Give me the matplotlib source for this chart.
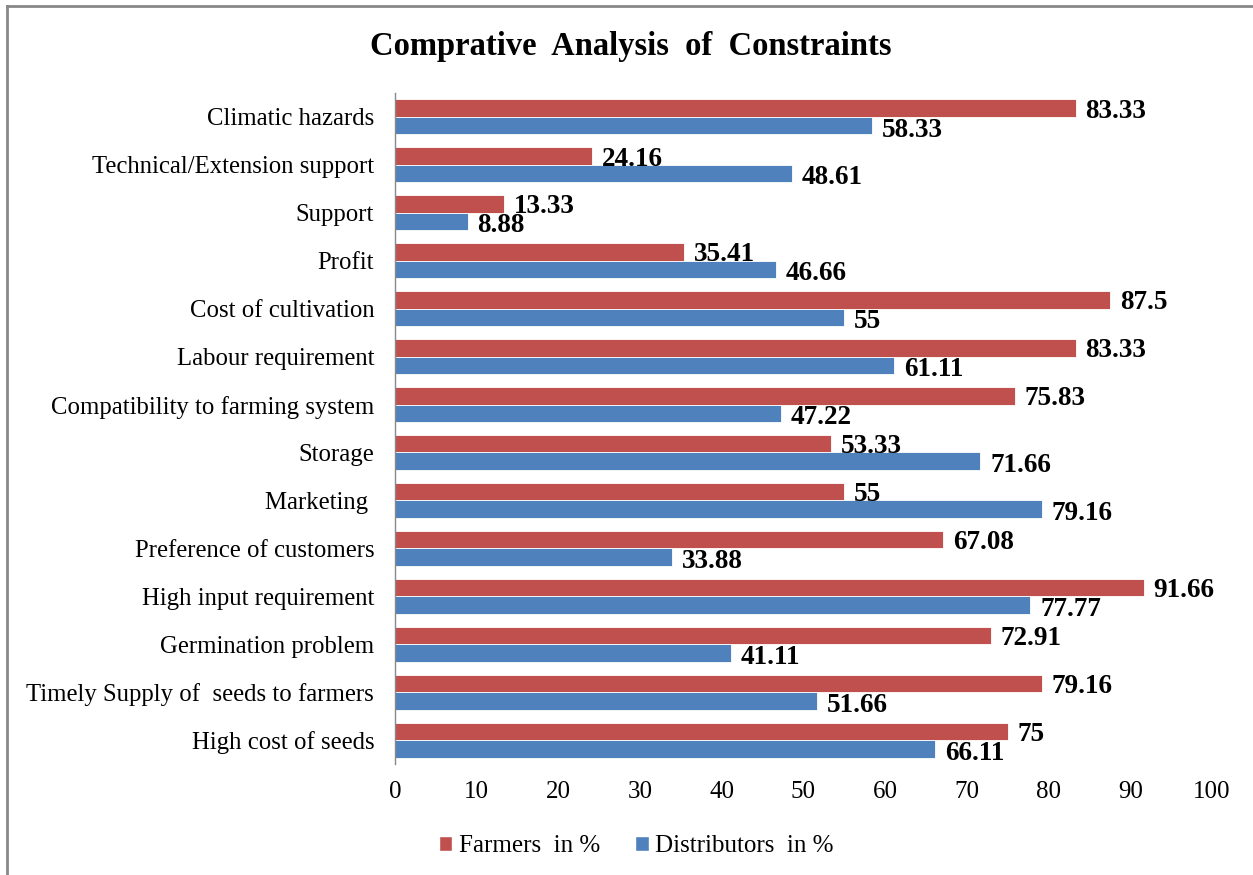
import numpy as np
import matplotlib
matplotlib.use('Agg')
import matplotlib.pyplot as plt
from matplotlib.lines import Line2D
from matplotlib.patches import Patch

categories = [
    'Climatic hazards',
    'Technical/Extension support',
    'Support',
    'Profit',
    'Cost of cultivation',
    'Labour requirement',
    'Compatibility to farming system',
    'Storage',
    'Marketing ',
    'Preference of customers',
    'High input requirement',
    'Germination problem',
    'Timely Supply of  seeds to farmers',
    'High cost of seeds',
]
farmers = [83.33, 24.16, 13.33, 35.41, 87.5, 83.33, 75.83, 53.33, 55,
           67.08, 91.66, 72.91, 79.16, 75]
distributors = [58.33, 48.61, 8.88, 46.66, 55, 61.11, 47.22, 71.66, 79.16,
                33.88, 77.77, 41.11, 51.66, 66.11]
xticks = list(range(0, 101, 10))

RED = '#C0504D'
BLUE = '#4F81BD'

plt.rcParams['font.family'] = ['Liberation Serif', 'DejaVu Serif']


def fmt(v):
    return ('%g' % v)


def main():
    fig = plt.figure(figsize=(12.53, 8.75), dpi=100)
    W, H = 1253, 875
    # axes placed in pixel terms: x 395..1212, y 93..764
    ax = fig.add_axes([395 / W, 1 - 764 / H, (1212 - 395) / W, (764 - 93) / H])

    n = len(categories)
    y = np.arange(n)
    h = 0.365
    ax.barh(y - h / 2, farmers, height=h, color=RED, edgecolor='white',
            linewidth=0.6)
    ax.barh(y + h / 2, distributors, height=h, color=BLUE, edgecolor='white',
            linewidth=0.6)

    for i in range(n):
        ax.text(farmers[i] + 1.2, y[i] - h / 2 + 0.06, fmt(farmers[i]),
                va='center', ha='left', fontsize=19.5, fontweight='bold')
        ax.text(distributors[i] + 1.2, y[i] + h / 2 + 0.09, fmt(distributors[i]),
                va='center', ha='left', fontsize=19.5, fontweight='bold')

    ax.set_ylim(n - 0.5, -0.5)
    ax.set_xlim(0, 100)
    ax.set_yticks(y)
    ax.set_yticklabels(categories, fontsize=17.8)
    ax.set_xticks(xticks)
    ax.set_xticklabels([str(t) for t in xticks], fontsize=18)
    ax.tick_params(axis='both', length=0)
    ax.tick_params(axis='y', pad=15)
    ax.tick_params(axis='x', pad=12)
    for s in ['top', 'right', 'bottom']:
        ax.spines[s].set_visible(False)
    ax.spines['left'].set_color('#888888')
    ax.spines['left'].set_linewidth(1.0)

    fig.text(631 / W, 1 - 46 / H, 'Comprative  Analysis  of  Constraints',
             ha='center', va='center', fontsize=23.5, fontweight='bold')

    handles = [Patch(facecolor=RED, edgecolor='white'),
               Patch(facecolor=BLUE, edgecolor='white')]
    fig.legend(handles, ['Farmers  in %', 'Distributors  in %'],
               loc='center', bbox_to_anchor=(636 / W, 1 - 846 / H),
               ncol=2, frameon=False, fontsize=18, handlelength=0.55,
               handleheight=0.55, handletextpad=0.25, columnspacing=1.4)

    # outer frame (left and top edges)
    fig.add_artist(Line2D([7 / W, 7 / W], [0, 1 - 6 / H], color='#888888',
                          linewidth=2.0, transform=fig.transFigure))
    fig.add_artist(Line2D([7 / W, 1], [1 - 6 / H, 1 - 6 / H], color='#888888',
                          linewidth=2.0, transform=fig.transFigure))

    fig.savefig('out.png', dpi=100)


if __name__ == '__main__':
    main()
